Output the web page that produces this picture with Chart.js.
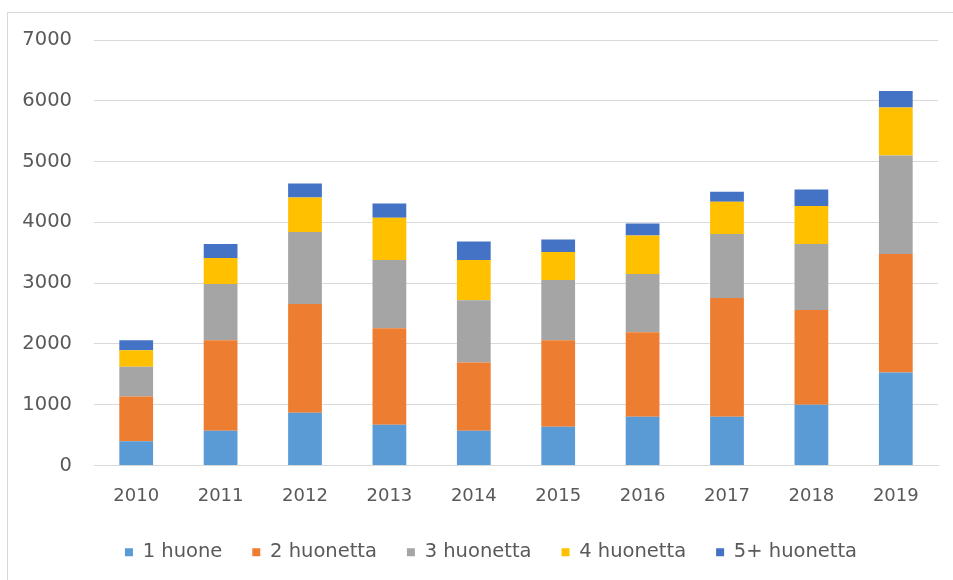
<!DOCTYPE html>
<html>
<head>
<meta charset="utf-8">
<script src="https://cdn.jsdelivr.net/npm/chart.js@4"></script>
<style>
  html, body { margin: 0; padding: 0; background: #ffffff; }
  #wrap { position: relative; width: 953px; height: 580px; overflow: hidden; }
  #frame { position: absolute; left: 7px; top: 12px; width: 1000px; height: 1000px;
           border-left: 1px solid #d9d9d9; border-top: 1px solid #d9d9d9; pointer-events: none; }
  canvas { position: absolute; left: 0; top: 0; }
</style>
</head>
<body>
<div id="wrap">
  <div id="frame"></div>
  <canvas id="c" width="953" height="580"></canvas>
</div>
<script>
const categories = ['2010','2011','2012','2013','2014','2015','2016','2017','2018','2019'];
const seriesNames = ['1 huone','2 huonetta','3 huonetta','4 huonetta','5+ huonetta'];
const huone1 = [400, 571, 867, 670, 571, 637, 802, 802, 999, 1532];
const huone2 = [736, 1488, 1790, 1586, 1125, 1422, 1389, 1954, 1559, 1948];
const huone3 = [489, 927, 1186, 1126, 1022, 993, 960, 1054, 1087, 1620];
const huone4 = [269, 429, 566, 692, 664, 461, 632, 527, 626, 791];
const huone5 = [165, 230, 230, 236, 302, 204, 198, 165, 269, 269];
const yTicks = [0, 1000, 2000, 3000, 4000, 5000, 6000, 7000];

const colors = ['#5B9BD5', '#ED7D31', '#A5A5A5', '#FFC000', '#4472C4'];
const values = [huone1, huone2, huone3, huone4, huone5];
const textColor = '#595959';
const fontFamily = '"DejaVu Sans", sans-serif';

// widen the y-axis label clip area so right-aligned labels are not cut off
const widenYAxis = {
  id: 'widenYAxis',
  afterLayout(chart) { chart.scales.y.left = 10; }
};

new Chart(document.getElementById('c'), {
  type: 'bar',
  data: {
    labels: categories,
    datasets: seriesNames.map((n, i) => ({
      label: n,
      data: values[i],
      backgroundColor: colors[i],
      borderWidth: 0,
      categoryPercentage: 1.0,
      barPercentage: 0.4
    }))
  },
  plugins: [widenYAxis],
  options: {
    responsive: false,
    animation: false,
    layout: { padding: { left: 44, right: 15, top: 40, bottom: 8 } },
    plugins: {
      tooltip: { enabled: false },
      legend: {
        position: 'bottom',
        labels: {
          color: textColor,
          font: { family: fontFamily, size: 19.5 },
          boxWidth: 8,
          boxHeight: 8,
          padding: 30
        }
      }
    },
    scales: {
      x: {
        stacked: true,
        grid: { display: false, drawTicks: false },
        border: { display: true, color: '#d9d9d9', width: 1 },
        ticks: { color: textColor, font: { family: fontFamily, size: 18 }, padding: 20 },
        afterFit: (s) => { s.height = 47; }
      },
      y: {
        stacked: true,
        min: 0,
        max: 7000,
        afterBuildTicks: (s) => { s.ticks = yTicks.map(v => ({ value: v })); },
        grid: { color: '#d9d9d9', lineWidth: 1, drawTicks: false },
        border: { display: false },
        ticks: {
          color: textColor,
          font: { family: fontFamily, size: 19.5 },
          padding: 22,
          callback: (v) => String(v)
        },
        afterFit: (s) => { s.width = 50; }
      }
    }
  }
});
</script>
</body>
</html>
